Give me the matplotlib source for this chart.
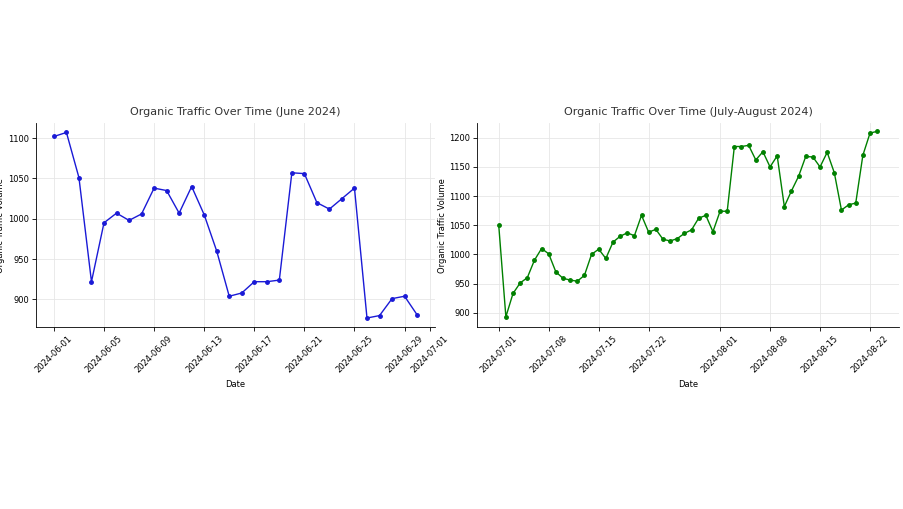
import matplotlib
matplotlib.use("Agg")
import matplotlib.pyplot as plt
import matplotlib.dates as mdates
import numpy as np
import pandas as pd

june_dates = pd.date_range("2024-06-01", periods=30, freq="D")
june_traffic = [1102, 1107, 1051, 922, 995, 1007, 998, 1006, 1038, 1035,
                1007, 1040, 1005, 960, 904, 908, 922, 922, 924, 1057,
                1056, 1020, 1012, 1025, 1038, 877, 880, 901, 904, 881]

julaug_dates = pd.date_range("2024-07-01", periods=54, freq="D")
julaug_traffic = [1050, 893, 933, 951, 960, 990, 1010, 1001, 970, 959,
                  956, 954, 964, 1000, 1009, 993, 1021, 1031, 1037, 1032,
                  1067, 1038, 1043, 1026, 1023, 1027, 1036, 1042, 1062, 1067,
                  1039, 1074, 1074, 1185, 1185, 1187, 1162, 1176, 1150, 1169,
                  1082, 1109, 1134, 1168, 1167, 1150, 1175, 1140, 1076, 1085,
                  1088, 1170, 1208, 1211]

fig = plt.figure(figsize=(9.04, 5.09), dpi=100)
ax1 = fig.add_axes([0.040, 0.357, 0.441, 0.401])
ax2 = fig.add_axes([0.528, 0.357, 0.466, 0.401])

def style(ax, title):
    ax.set_title(title, fontsize=8, color="#333333")
    ax.set_xlabel("Date", fontsize=6)
    ax.set_ylabel("Organic Traffic Volume", fontsize=6, labelpad=2)
    ax.tick_params(labelsize=6, length=3, width=0.6, pad=2)
    ax.grid(True, color="#e6e6e6", linewidth=0.6)
    ax.set_axisbelow(True)
    for s in ("top", "right"):
        ax.spines[s].set_visible(False)
    for s in ("left", "bottom"):
        ax.spines[s].set_linewidth(0.6)
    ax.xaxis.set_major_formatter(mdates.DateFormatter("%Y-%m-%d"))
    for lbl in ax.get_xticklabels():
        lbl.set_rotation(45)

ax1.plot(june_dates, june_traffic, color="#1a1ad6", marker="o", markersize=2.5, linewidth=1)
ax1.xaxis.set_major_locator(mdates.DayLocator(bymonthday=[1, 5, 9, 13, 17, 21, 25, 29]))
ax1.set_xlim(pd.Timestamp("2024-05-30 14:00"), pd.Timestamp("2024-07-01 10:00"))
ax1.set_yticks([900, 950, 1000, 1050, 1100])
style(ax1, "Organic Traffic Over Time (June 2024)")

ax2.plot(julaug_dates, julaug_traffic, color="green", marker="o", markersize=2.5, linewidth=1)
ax2.set_xlim(pd.Timestamp("2024-06-28"), pd.Timestamp("2024-08-26"))
ax2.set_ylim(875, 1225)
ax2.set_yticks(np.arange(900, 1201, 50))
ax2.set_xticks([mdates.date2num(pd.Timestamp(d)) for d in
                ["2024-07-01", "2024-07-08", "2024-07-15", "2024-07-22",
                 "2024-08-01", "2024-08-08", "2024-08-15", "2024-08-22"]])
style(ax2, "Organic Traffic Over Time (July-August 2024)")

fig.savefig("out.png", dpi=100)
